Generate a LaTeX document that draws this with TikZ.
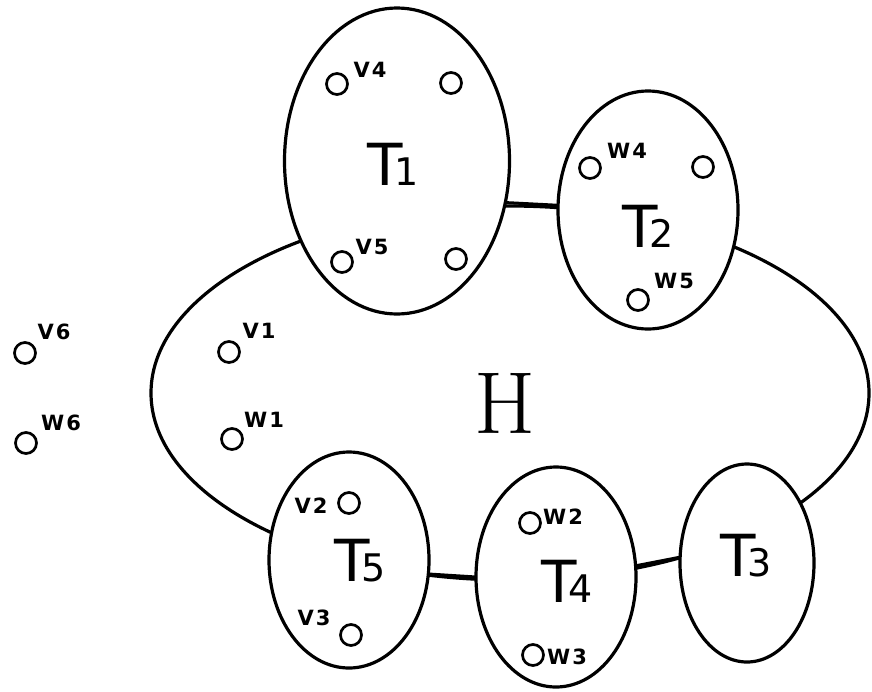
\documentclass[tikz,border=0pt]{standalone}
\usepackage{fontspec}
\setsansfont{DejaVu Sans}
\usetikzlibrary{shapes.geometric}
\newcommand{\TLab}[1]{{\fontsize{58}{60}\selectfont T}\kern-9pt{\fontsize{38}{40}\selectfont #1}}
\newcommand{\sLab}[2]{#1\hspace{2pt}#2}
\begin{document}
\begin{tikzpicture}[x=1pt,y=-1pt,
  hset/.style={ellipse, draw, line width=3.2pt, inner sep=0pt, outer sep=0pt},
  tset/.style={ellipse, draw, fill=white, line width=3.2pt, inner sep=0pt, outer sep=0pt},
  vtx/.style={circle, draw, line width=2.7pt, minimum size=21pt, inner sep=0pt},
  vlab/.style={font=\sffamily\bfseries\fontsize{21}{23}\selectfont, inner sep=0pt},
  tlab/.style={font=\sffamily, inner sep=0pt},
  link/.style={line width=3pt}]
\useasboundingbox (0,0) rectangle (872,691);
% big set H
\node[hset, minimum width=718pt, minimum height=374pt] (H) at (510,393) {};
\node[font=\fontsize{88}{90}\selectfont, inner sep=0pt] (Hl) at (505,403) {H};
% T sets
\node[tset, minimum width=225pt, minimum height=306pt] (T1) at (397,161) {};
\node[tset, minimum width=180pt, minimum height=238pt] (T2) at (648,210) {};
\node[tset, minimum width=134pt, minimum height=198pt] (T3) at (747,563) {};
\node[tset, minimum width=160pt, minimum height=220pt] (T4) at (556,577) {};
\node[tset, minimum width=160pt, minimum height=216pt] (T5) at (349,560) {};
% connectors
\draw[link] (T1.-21) -- (T2.177);
\draw[link] (T5.-10) -- (T4.180);
\draw[link] (T4.8) -- (T3.175);
% T labels
\node[tlab] (T1l) at (393,164) {\TLab{1}};
\node[tlab] (T2l) at (648,226) {\TLab{2}};
\node[tlab] (T3l) at (746,556) {\TLab{3}};
\node[tlab] (T4l) at (567,581) {\TLab{4}};
\node[tlab] (T5l) at (360,561) {\TLab{5}};
% vertices
\node[vtx] (v4) at (337,84) {};
\node[vtx] (a1) at (451,83) {};
\node[vtx] (v5) at (342,262) {};
\node[vtx] (a2) at (456,259) {};
\node[vtx] (w4) at (590,168) {};
\node[vtx] (a3) at (703,167) {};
\node[vtx] (w5) at (638,300) {};
\node[vtx] (v6) at (25,353) {};
\node[vtx] (w6) at (26,443) {};
\node[vtx] (v1) at (229,352) {};
\node[vtx] (w1) at (232,439) {};
\node[vtx] (v2) at (349,503) {};
\node[vtx] (v3) at (351,635) {};
\node[vtx] (w2) at (530,523) {};
\node[vtx] (w3) at (533,655) {};
% vertex labels
\node[vlab] (v4l) at (370,70) {\sLab{V}{4}};
\node[vlab] (v5l) at (372,247) {\sLab{V}{5}};
\node[vlab] (w4l) at (627,151) {\sLab{W}{4}};
\node[vlab] (w5l) at (674,281) {\sLab{W}{5}};
\node[vlab] (v6l) at (54,332) {\sLab{V}{6}};
\node[vlab] (w6l) at (61,423) {\sLab{W}{6}};
\node[vlab] (v1l) at (259,331) {\sLab{V}{1}};
\node[vlab] (w1l) at (264,420) {\sLab{W}{1}};
\node[vlab] (v2l) at (311,506) {\sLab{V}{2}};
\node[vlab] (v3l) at (314,618) {\sLab{V}{3}};
\node[vlab] (w2l) at (563,517) {\sLab{W}{2}};
\node[vlab] (w3l) at (567,657) {\sLab{W}{3}};
\end{tikzpicture}
\end{document}
